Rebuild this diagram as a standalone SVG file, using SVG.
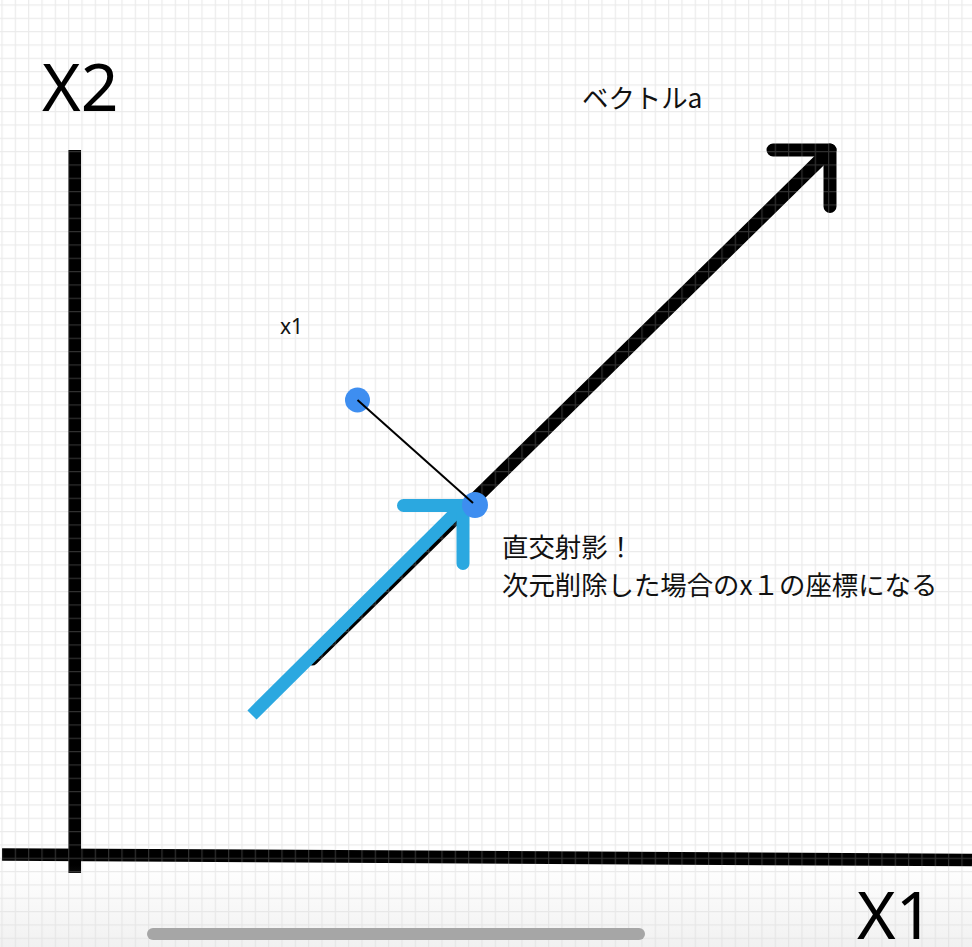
<svg xmlns="http://www.w3.org/2000/svg" width="972" height="947" viewBox="0 0 972 947">
  <style>
    .axis { stroke: #000; stroke-width: 12.7; fill: none; }
    .vec { stroke: #000; stroke-width: 13; fill: none; stroke-linecap: round; stroke-linejoin: round; }
    .proj { stroke: #2ba8e0; stroke-width: 13; fill: none; stroke-linejoin: round; }
    .dot { fill: #3e8ef0; }
    .perp { stroke: #000; stroke-width: 2; fill: none; }
    .big { font-family: "Noto Sans", "Liberation Sans", sans-serif; font-size: 66px; fill: #000; }
    .jp { font-family: "Noto Sans CJK JP", "Noto Sans", sans-serif; font-size: 26.4px; fill: #111; }
    .small { font-family: "Noto Sans", "Liberation Sans", sans-serif; font-size: 21px; fill: #111; }
  </style>
  <defs>
    <pattern id="grid" patternUnits="userSpaceOnUse" x="1.4" y="4.4" width="13.333" height="13.333">
      <path d="M0.6 0 V13.333 M0 0.6 H13.333" stroke="#b4b4b4" stroke-width="1.2" fill="none"/>
    </pattern>
    <linearGradient id="shade" x1="0" y1="0" x2="0" y2="1">
      <stop offset="0" stop-color="#dcdcdc" stop-opacity="0"/>
      <stop offset="1" stop-color="#dcdcdc" stop-opacity="0.4"/>
    </linearGradient>
  </defs>
  <rect x="0" y="0" width="972" height="947" fill="#ffffff"/>

  <g id="axes">
    <line class="axis" x1="74.7" y1="150" x2="74.7" y2="873"/>
    <line class="axis" x1="2" y1="854.5" x2="972" y2="860"/>
  </g>

  <g id="connectors">
    <g id="vector-a">
      <line class="vec" x1="830" y1="150" x2="312" y2="659" stroke-linecap="butt"/>
      <polyline class="vec" points="773,150 830,150 830,206.5"/>
    </g>
  </g>

  <rect id="grid-overlay" x="0" y="0" width="972" height="947" fill="url(#grid)" opacity="0.27"/>
  <rect x="0" y="865" width="972" height="82" fill="url(#shade)"/>

  <g id="projection">
    <line class="proj" x1="252" y1="715" x2="463" y2="505.5" stroke-linecap="butt"/>
    <polyline class="proj" points="403.5,505.5 463,505.5 463,563.5" stroke-linecap="round"/>
  </g>

  <g id="point-x1">
    <circle class="dot" cx="357.5" cy="400" r="12.5"/>
  </g>
  <g id="point-proj">
    <circle class="dot" cx="475" cy="505" r="13"/>
  </g>
  <g id="perpendicular">
    <line class="perp" x1="357.5" y1="400" x2="473" y2="503"/>
  </g>

  <g id="labels">
    <text class="big" x="42" y="110.5">X2</text>
    <text class="big" x="857" y="939">X1</text>
    <text class="jp" x="582" y="108">ベクトルa</text>
    <text class="small" x="280" y="334">x1</text>
    <text class="jp" x="502" y="557">直交射影！</text>
    <text class="jp" x="502" y="595">次元削除した場合のx１の座標になる</text>
  </g>

  <rect id="scrollbar" x="147" y="928" width="498" height="12" rx="6" fill="#a6a6a6"/>
</svg>
